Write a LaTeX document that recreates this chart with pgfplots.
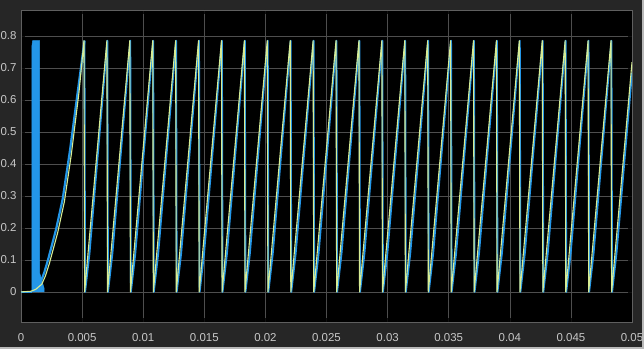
\documentclass[border=0pt]{standalone}
\usepackage{pgfplots}
\pgfplotsset{compat=1.18}
\usepackage{fontspec}
\setmainfont{Liberation Sans}
\definecolor{bgout}{RGB}{38,38,38}
\definecolor{gridc}{RGB}{78,78,78}
\definecolor{framec}{RGB}{95,95,95}
\definecolor{labc}{RGB}{200,200,200}
\definecolor{sigblue}{RGB}{35,150,232}
\definecolor{sigyel}{RGB}{215,236,148}
\begin{document}
\begin{tikzpicture}[x=1bp,y=1bp]
\fill[bgout] (0,0) rectangle (644,349);
\begin{axis}[
  at={(21bp,27bp)}, anchor=south west, scale only axis,
  width=611bp, height=312bp,
  xmin=0, xmax=0.05, ymin=-0.094, ymax=0.881,
  axis background/.style={fill=black},
  axis line style={draw=framec, line width=0.6bp},
  grid=major, major grid style={draw=gridc, line width=0.6bp},
  tick align=inside, major tick length=4bp,
  tick style={draw=framec!150, line width=0.6bp},
  xtick={0,0.005,0.01,0.015,0.02,0.025,0.03,0.035,0.04,0.045,0.05},
  xticklabels={0,0.005,0.01,0.015,0.02,0.025,0.03,0.035,0.04,0.045,0.05},
  ytick={0,0.1,0.2,0.3,0.4,0.5,0.6,0.7,0.8},
  yticklabels={0,0.1,0.2,0.3,0.4,0.5,0.6,0.7,0.8},
  tick label style={font=\fontsize{11.5}{13}\selectfont, text=labc},
  xticklabel style={yshift=-8bp},
  yticklabel style={xshift=-1bp},
]
% blue fast-oscillation band
\addplot[draw=sigblue, fill=sigblue, line width=0.5bp] coordinates {
(0.00088,0) (0.00088,0.765) (0.00095,0.785) (0.00152,0.785) (0.00152,0.06) (0.0019,0.01) (0.0019,0)
} -- cycle;
% blue signal
\addplot[draw=sigblue, line width=1.8bp, line join=round] coordinates {
(0,0) (0.00088,0)
};
\addplot[draw=sigblue, line width=2.2bp, line join=round] table {
0.0014 0.0
0.0016 0.03
0.0019 0.06
0.00221 0.1
0.00286 0.194
0.00341 0.29
0.004 0.44
0.00466 0.63
0.005195 0.785
};
\addplot[draw=sigblue, line width=1.8bp, line join=round] table {
0.005195 0.785
0.005245 0
0.005605 0.12
0.007070 0.785
0.007120 0
0.007480 0.12
0.008945 0.785
0.008995 0
0.009355 0.12
0.010820 0.785
0.010870 0
0.011230 0.12
0.012695 0.785
0.012745 0
0.013105 0.12
0.014570 0.785
0.014620 0
0.014980 0.12
0.016445 0.785
0.016495 0
0.016855 0.12
0.018320 0.785
0.018370 0
0.018730 0.12
0.020195 0.785
0.020245 0
0.020605 0.12
0.022070 0.785
0.022120 0
0.022480 0.12
0.023945 0.785
0.023995 0
0.024355 0.12
0.025820 0.785
0.025870 0
0.026230 0.12
0.027695 0.785
0.027745 0
0.028105 0.12
0.029570 0.785
0.029620 0
0.029980 0.12
0.031445 0.785
0.031495 0
0.031855 0.12
0.033320 0.785
0.033370 0
0.033730 0.12
0.035195 0.785
0.035245 0
0.035605 0.12
0.037070 0.785
0.037120 0
0.037480 0.12
0.038945 0.785
0.038995 0
0.039355 0.12
0.040820 0.785
0.040870 0
0.041230 0.12
0.042695 0.785
0.042745 0
0.043105 0.12
0.044570 0.785
0.044620 0
0.044980 0.12
0.046445 0.785
0.046495 0
0.046855 0.12
0.048320 0.785
0.048370 0
0.048730 0.12
0.050000 0.685
};
% yellow-green signal
\addplot[draw=sigyel, line width=1.1bp, line join=round] table {
0 0
0.0008 0.002
0.0012 0.008
0.0017 0.024
0.0020 0.05
0.00233 0.09
0.0030 0.185
0.00355 0.282
0.00412 0.43
0.00474 0.622
0.005155 0.785
0.005205 0
0.007030 0.785
0.007080 0
0.008905 0.785
0.008955 0
0.010780 0.785
0.010830 0
0.012655 0.785
0.012705 0
0.014530 0.785
0.014580 0
0.016405 0.785
0.016455 0
0.018280 0.785
0.018330 0
0.020155 0.785
0.020205 0
0.022030 0.785
0.022080 0
0.023905 0.785
0.023955 0
0.025780 0.785
0.025830 0
0.027655 0.785
0.027705 0
0.029530 0.785
0.029580 0
0.031405 0.785
0.031455 0
0.033280 0.785
0.033330 0
0.035155 0.785
0.035205 0
0.037030 0.785
0.037080 0
0.038905 0.785
0.038955 0
0.040780 0.785
0.040830 0
0.042655 0.785
0.042705 0
0.044530 0.785
0.044580 0
0.046405 0.785
0.046455 0
0.048280 0.785
0.048330 0
0.050000 0.718
};
\end{axis}
\fill[gray!55] (0,0) rectangle (644,2);
\fill[gray!55] (642,0) rectangle (644,349);
\pgfresetboundingbox
\path[use as bounding box] (0,0) rectangle (644,349);
\end{tikzpicture}
\end{document}
